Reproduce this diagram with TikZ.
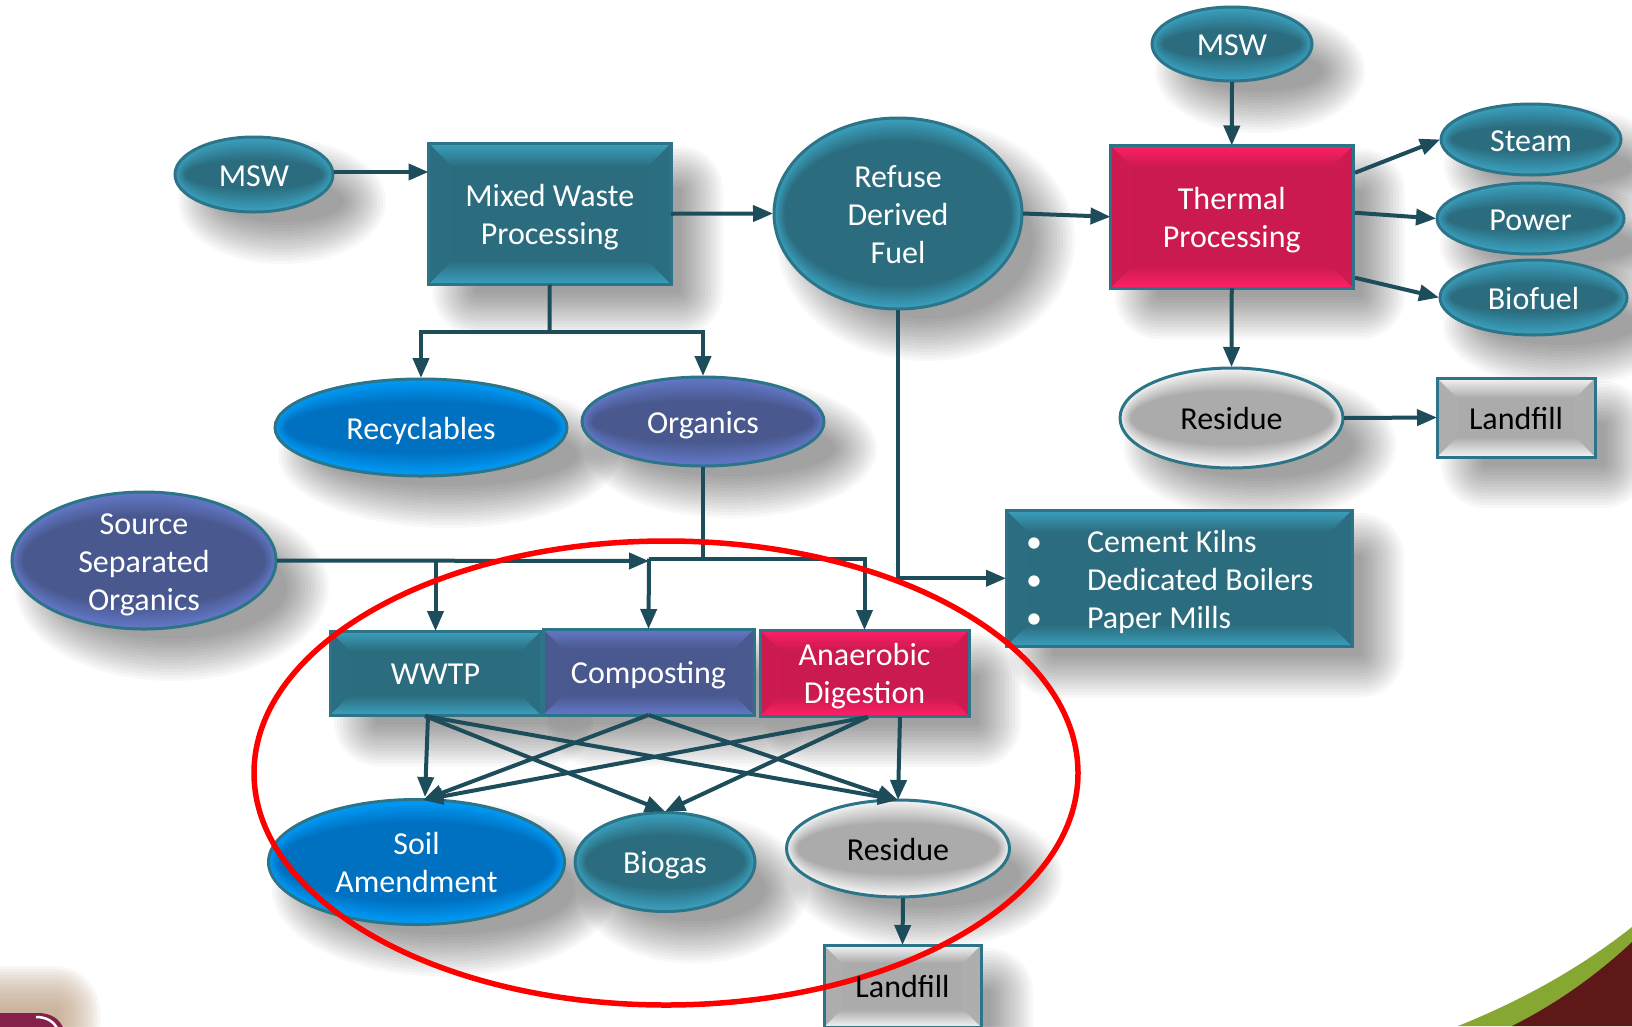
\documentclass[tikz,border=0pt]{standalone}
\usepackage{fontspec}
\setmainfont{Carlito}
\usetikzlibrary{arrows.meta,calc,shapes.geometric}
\pgfdeclarelayer{back}\pgfdeclarelayer{shapes}\pgfdeclarelayer{top}
\pgfsetlayers{back,shapes,main,top}
\definecolor{tealB}{HTML}{2B6C7E}\definecolor{tealL}{HTML}{3BA0BE}\colorlet{tealT}{white}
\definecolor{purpB}{HTML}{49598F}\definecolor{purpL}{HTML}{6478C8}\colorlet{purpT}{white}
\definecolor{crimB}{HTML}{CB1A4F}\definecolor{crimL}{HTML}{FF2066}\colorlet{crimT}{white}
\definecolor{blueB}{HTML}{0070C0}\definecolor{blueL}{HTML}{009CF8}\colorlet{blueT}{white}
\definecolor{grayB}{HTML}{ABABAB}\definecolor{grayL}{HTML}{F4F4F4}\colorlet{grayT}{black}
\definecolor{rimC}{HTML}{2C7488}\definecolor{flowC}{HTML}{1D4C5A}
\definecolor{logoM}{HTML}{85204A}\definecolor{logoG}{HTML}{BFA183}
\definecolor{wineC}{HTML}{5E1818}\definecolor{leafC}{HTML}{86A832}
\tikzset{
  x=1pt,y=-1pt,
  txt/.style={inner sep=0pt,outer sep=0pt,align=center,font=\fontsize{32}{38}\selectfont},
  flow/.style={draw=flowC,line width=4pt},
  flowa/.style={flow,-{Triangle[length=20pt,width=16pt]}},
  halo/.style={black,opacity=.026},
  rim/.style={draw=rimC,line width=3pt},
}
\newcommand{\lbl}[1]{\raisebox{-4.2pt}[\height][\depth]{\begin{tabular}{@{}c@{}}#1\end{tabular}}}
% name, cx, cy, rx, ry, palette, text
\newcommand{\ovalnode}[7]{%
  \begin{pgfonlayer}{back}
    \foreach \d in {-18,-15,...,24}{%
      \fill[halo] ({#2+28},{#3+27}) ellipse [x radius={#4+\d},y radius={#5+\d}];}
  \end{pgfonlayer}
  \begin{pgfonlayer}{shapes}
    \foreach \t in {0,...,16}{%
      \pgfmathsetmacro{\mixp}{100*(1-\t/16)}%
      \pgfmathsetmacro{\irx}{#4-1-\t*11/16}%
      \pgfmathsetmacro{\iry}{#5-1-\t*23/16}%
      \fill[#6L!\mixp!#6B] (#2,#3) ellipse [x radius=\irx,y radius=\iry];}
    \draw[rim] (#2,#3) ellipse [x radius={#4-1},y radius={#5-1}];
  \end{pgfonlayer}
  \begin{pgfonlayer}{top}
    \node[txt,ellipse,text=#6T,minimum width={2*#4 pt},minimum height={2*#5 pt}] (#1) at (#2,#3) {\lbl{#7}};
  \end{pgfonlayer}}
% name, x1, y1, x2, y2, bevel, palette, text
\newcommand{\boxnode}[8]{%
  \begin{pgfonlayer}{back}
    \foreach \d in {-18,-15,...,24}{%
      \pgfmathsetmacro{\rr}{\d+20}%
      \fill[halo,rounded corners=\rr pt] ({#2+28-\d},{#3+27-\d}) rectangle ({#4+28+\d},{#5+27+\d});}
  \end{pgfonlayer}
  \begin{pgfonlayer}{shapes}
    \fill[#7B] (#2,#3) rectangle (#4,#5);
    \fill[#7B!96!#7L] (#2,#3) -- ({#2+#6},{#3+#6}) -- ({#2+#6},{#5-#6}) -- (#2,#5) -- cycle;
    \fill[#7B!96!#7L] (#4,#3) -- ({#4-#6},{#3+#6}) -- ({#4-#6},{#5-#6}) -- (#4,#5) -- cycle;
    \shade[top color=#7L,bottom color=#7B] (#2,#3) -- (#4,#3) -- ({#4-#6},{#3+#6}) -- ({#2+#6},{#3+#6}) -- cycle;
    \shade[top color=#7B,bottom color=#7L] (#2,#5) -- (#4,#5) -- ({#4-#6},{#5-#6}) -- ({#2+#6},{#5-#6}) -- cycle;
    \draw[rim] (#2,#3) rectangle (#4,#5);
  \end{pgfonlayer}
  \begin{pgfonlayer}{top}
    \node[txt,rectangle,text=#7T,minimum width={(#4-#2)*1pt},minimum height={(#5-#3)*1pt}] (#1) at ({(#2+#4)/2},{(#3+#5)/2}) {\lbl{#8}};
  \end{pgfonlayer}}
\begin{document}
\begin{tikzpicture}
\path[use as bounding box] (0,0) rectangle (1632,1026);
\begin{pgfonlayer}{back}
  \fill[white] (0,0) rectangle (1632,1026);
  % logo remnant, bottom left
  \foreach \d in {0,3,...,42}{%
    \pgfmathsetmacro{\rr}{46-\d}%
    \fill[logoG,opacity=.085,rounded corners=\rr pt] (-60,{966+\d}) rectangle ({100-\d},1090);}
\end{pgfonlayer}
\begin{pgfonlayer}{shapes}
  \fill[leafC] (1458,1026) .. controls (1530,997) and (1585,964) .. (1632,927) -- (1632,1026) -- cycle;
  \fill[wineC] (1512,1026) .. controls (1560,1002) and (1600,972) .. (1632,942) -- (1632,1026) -- cycle;
  \fill[logoM] (-4,1013) -- (38,1013) .. controls (50,1013) and (60,1018) .. (64,1030) -- (-4,1030) -- cycle;
  \draw[white,line width=2.5pt] (36,1017) .. controls (46,1017) and (54,1021) .. (58,1030);
\end{pgfonlayer}

\ovalnode{mswt}{1232}{44}{81}{38}{teal}{MSW}
\ovalnode{steam}{1531}{139.5}{91}{36.5}{teal}{Steam}
\ovalnode{power}{1530.5}{218.5}{94.5}{36.5}{teal}{Power}
\ovalnode{biofuel}{1533.5}{297.5}{94.5}{38.5}{teal}{Biofuel}
\boxnode{therm}{1110.5}{145.5}{1353}{288}{22}{crim}{Thermal\\Processing}
\ovalnode{rest}{1231.5}{418}{112.5}{51}{gray}{Residue}
\boxnode{landt}{1437}{378}{1595}{457}{20}{gray}{Landfill}
\ovalnode{refuse}{898}{213.5}{125}{96.5}{teal}{Refuse\\Derived\\Fuel}
\boxnode{mixed}{428.5}{143}{671}{284.5}{24}{teal}{Mixed Waste\\Processing}
\ovalnode{mswl}{254}{174.5}{80}{38.5}{teal}{MSW}
\ovalnode{recy}{421}{427.5}{147}{49.5}{blue}{Recyclables}
\ovalnode{orgs}{703}{421.5}{122}{45.5}{purp}{Organics}
\ovalnode{source}{144}{560.5}{133}{69.5}{purp}{Source\\Separated\\Organics}
\boxnode{cement}{1006}{510}{1352}{646.5}{22}{teal}{\parbox{306pt}{\raggedright\makebox[61pt][l]{•}Cement Kilns\\\makebox[61pt][l]{•}Dedicated Boilers\\\makebox[61pt][l]{•}Paper Mills}}
\boxnode{wwtp}{330}{631}{541}{715}{20}{teal}{WWTP}
\boxnode{comp}{543}{629}{754}{715}{20}{purp}{Composting}
\boxnode{anae}{760}{630}{969}{716}{20}{crim}{Anaerobic\\Digestion}
\ovalnode{soil}{416.5}{862}{149}{63.5}{blue}{Soil\\Amendment}
\ovalnode{bio}{665}{862}{91}{50.5}{teal}{Biogas}
\ovalnode{resl}{898}{848.5}{112.5}{49.5}{gray}{Residue}
\boxnode{landl}{824}{945}{981}{1027}{18}{gray}{Landfill}

% upper connectors
\draw[flowa] (mswt.south) -- (therm.north);
\draw[flowa] ($(therm.east)+(2,-44)$) -- (steam.west);
\draw[flowa] ($(therm.east)+(2,-4)$) -- (power.west);
\draw[flowa] ($(therm.east)+(2,61)$) -- (biofuel.west);
\draw[flowa] (therm.south) -- (rest.north);
\draw[flowa] (rest.east) -- (landt.west);
\draw[flowa] (refuse.east) -- (therm.west);
\draw[flowa] (mixed.east) -- (refuse.west);
\coordinate (mswout) at ($(mswl.east)+(0,-2.5)$);
\draw[flowa] (mswout) -- (mixed.west |- mswout);
\coordinate (mixjoin) at (549.5,332);
\draw[flow] (mixed.south) -- (mixjoin);
\draw[flowa] (mixjoin) -| (recy.north);
\draw[flowa] (mixjoin) -| (orgs.north);
\draw[flowa] (refuse.south) |- (cement.west);
% organics feed
\coordinate (srcjoin) at (649,561);
\coordinate (orgjoin) at (703,558.5);
\draw[flow] (orgs.south) -- (orgjoin);
\draw[flow] (srcjoin |- orgjoin) -- (orgjoin);
\draw[flowa] (source.east) -- (srcjoin);
\draw[flowa] (srcjoin |- orgjoin) -- (comp.north);
\draw[flowa] (orgjoin) -| (anae.north);
\draw[flowa] (wwtp.north |- srcjoin) -- (wwtp.north);
% lower crossing connectors
\coordinate (wwtpoutA) at (428,716);
\coordinate (wwtpoutB) at (425,716);
\coordinate (anaeoutA) at (868,717);
\coordinate (anaeoutB) at (900,717);
\coordinate (soilin) at (423,800);
\coordinate (soilinA) at (425,797);
\coordinate (resin) at (898,800);
\draw[flowa] (wwtpoutA) -- (soilinA);
\draw[flowa] (wwtpoutB) -- (bio.north);
\draw[flowa] (wwtpoutB) -- (resin);
\draw[flowa] (comp.south) -- (soilin);
\draw[flowa] (comp.south) -- (resin);
\draw[flowa] (anaeoutA) -- (soilin);
\draw[flowa] (anaeoutA) -- (bio.north);
\draw[flowa] (anaeoutB) -- (resin);
\coordinate (reslout) at ($(resl.south)+(5,0)$);
\draw[flowa] (reslout) -- (landl.north);
% highlight ring
\draw[red,line width=5.5pt] (666,773) ellipse [x radius=412,y radius=232];
\end{tikzpicture}
\end{document}
